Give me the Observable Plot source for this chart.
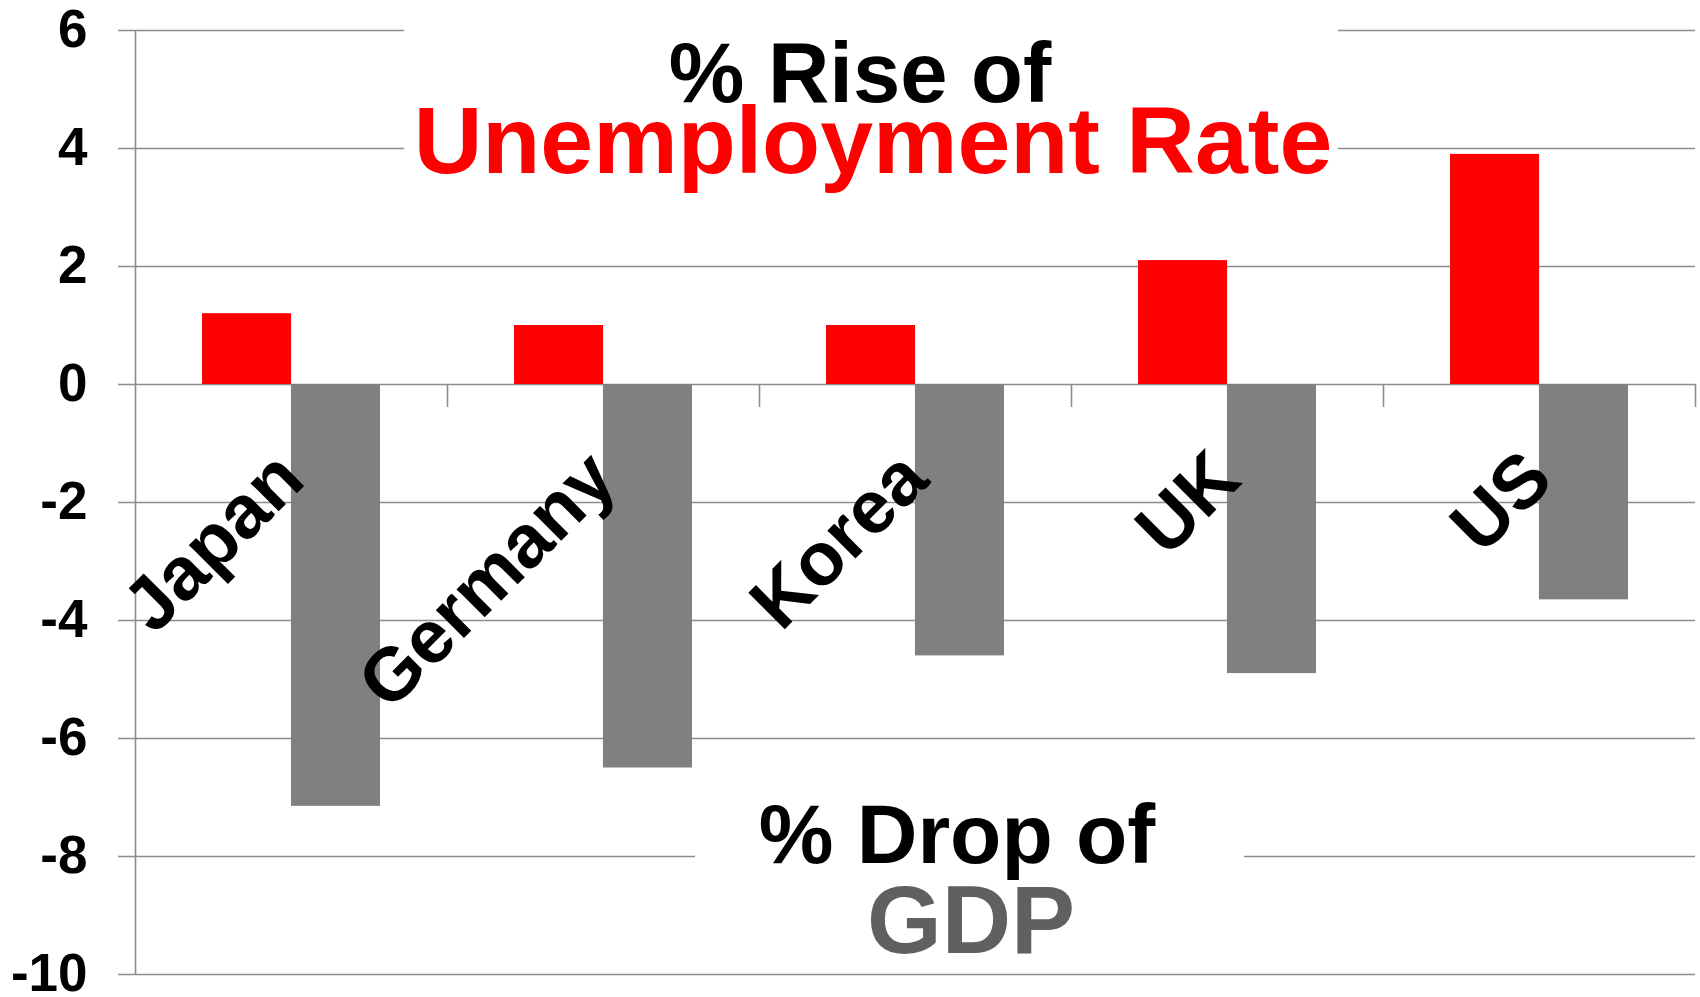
<!DOCTYPE html>
<html>
<head>
<meta charset="utf-8">
<script src="https://cdn.jsdelivr.net/npm/d3@7"></script>
<script src="https://cdn.jsdelivr.net/npm/@observablehq/plot@0.6"></script>
<style>
  html, body { margin: 0; padding: 0; background: #fff; }
  #wrap { position: relative; width: 1700px; height: 997px; font-family: "Liberation Sans", Arial, sans-serif; }
  #wrap svg { position: absolute; left: 0; top: 0; }
  .box { position: absolute; background: #fff; }
  .line { position: absolute; text-align: center; font-weight: bold; white-space: nowrap; }
</style>
</head>
<body>
<div id="wrap"></div>
<script>
// ---- data ----
const countries = ["Japan", "Germany", "Korea", "UK", "US"];
const unemploymentRise = [1.2, 1.0, 1.0, 2.1, 3.9];
const gdpDrop = [-7.15, -6.5, -4.6, -4.9, -3.65];
const yTicks = [-10, -8, -6, -4, -2, 0, 2, 4, 6];
const riseColor = "#ff0000";
const dropColor = "#808080";

// ---- layout ----
const W = 1700, H = 997;
const mL = 135, mR = 5, mT = 30, mB = 23;
const padInner = 0.43;
const step = (W - mL - mR) / countries.length;
const halfBand = step * (1 - padInner) / 2;
const gridColor = "#8c8c8c";

const rows = countries.map((c, i) => ({country: c, rise: unemploymentRise[i], drop: gdpDrop[i]}));

const chart = Plot.plot({
  width: W,
  height: H,
  marginLeft: mL,
  marginRight: mR,
  marginTop: mT,
  marginBottom: mB,
  style: {fontFamily: '"Liberation Sans", Arial, sans-serif', background: "transparent", overflow: "visible", color: "#000"},
  x: {domain: countries, paddingInner: padInner, paddingOuter: padInner / 2, axis: null},
  y: {domain: [-10, 6], axis: null},
  marks: [
    Plot.gridY(yTicks, {stroke: gridColor, strokeOpacity: 1, strokeWidth: 1.6, insetLeft: -17}),
    // vertical axis line at left of plot
    Plot.ruleX([countries[0]], {x: d => d, dx: -step / 2, stroke: gridColor, strokeWidth: 1.6}),
    // category boundary ticks below the zero line
    Plot.ruleX(countries, {x: d => d, y1: 0, y2: 0, dx: step / 2, insetBottom: -23, stroke: gridColor, strokeWidth: 1.6}),
    Plot.axisY({ticks: yTicks, tickSize: 0, tickPadding: 48, tickFormat: d => String(d), fontSize: 53, fontWeight: "bold", fill: "#000"}),
    Plot.barY(rows, {x: "country", y: "rise", fill: riseColor, insetRight: halfBand}),
    Plot.barY(rows, {x: "country", y: "drop", fill: dropColor, insetLeft: halfBand}),
    Plot.text(rows, {x: "country", y: 0, text: "country", rotate: -45, textAnchor: "end", lineAnchor: "bottom",
      dx: 16, dy: 98, fontSize: 75, fontWeight: "bold", fill: "#000"})
  ]
});

const wrap = document.getElementById("wrap");
wrap.appendChild(chart);

// ---- annotations (text boxes with white background) ----
function addBox(left, top, width, height) {
  const d = document.createElement("div");
  d.className = "box";
  Object.assign(d.style, {left: left + "px", top: top + "px", width: width + "px", height: height + "px"});
  wrap.appendChild(d);
}
// baseline-positioned line of text (Liberation Sans: ascent .905, descent .212)
function addLine(text, centerX, baseline, size, color) {
  const lh = size * 1.2;
  const top = baseline - ((lh - 1.117 * size) / 2 + 0.905 * size);
  const d = document.createElement("div");
  d.className = "line";
  d.textContent = text;
  Object.assign(d.style, {left: (centerX - 600) + "px", width: "1200px", top: top + "px",
    fontSize: size + "px", lineHeight: lh + "px", color});
  wrap.appendChild(d);
}
addBox(404, 14, 934, 170);
addLine("% Rise of", 860, 102, 85, "#000");
addLine("Unemployment Rate", 873, 173, 95, riseColor);
addBox(695, 765, 549, 200);
addLine("% Drop of", 957, 864, 84, "#000");
addLine("GDP", 971, 953, 96, "#606060");
</script>
</body>
</html>
